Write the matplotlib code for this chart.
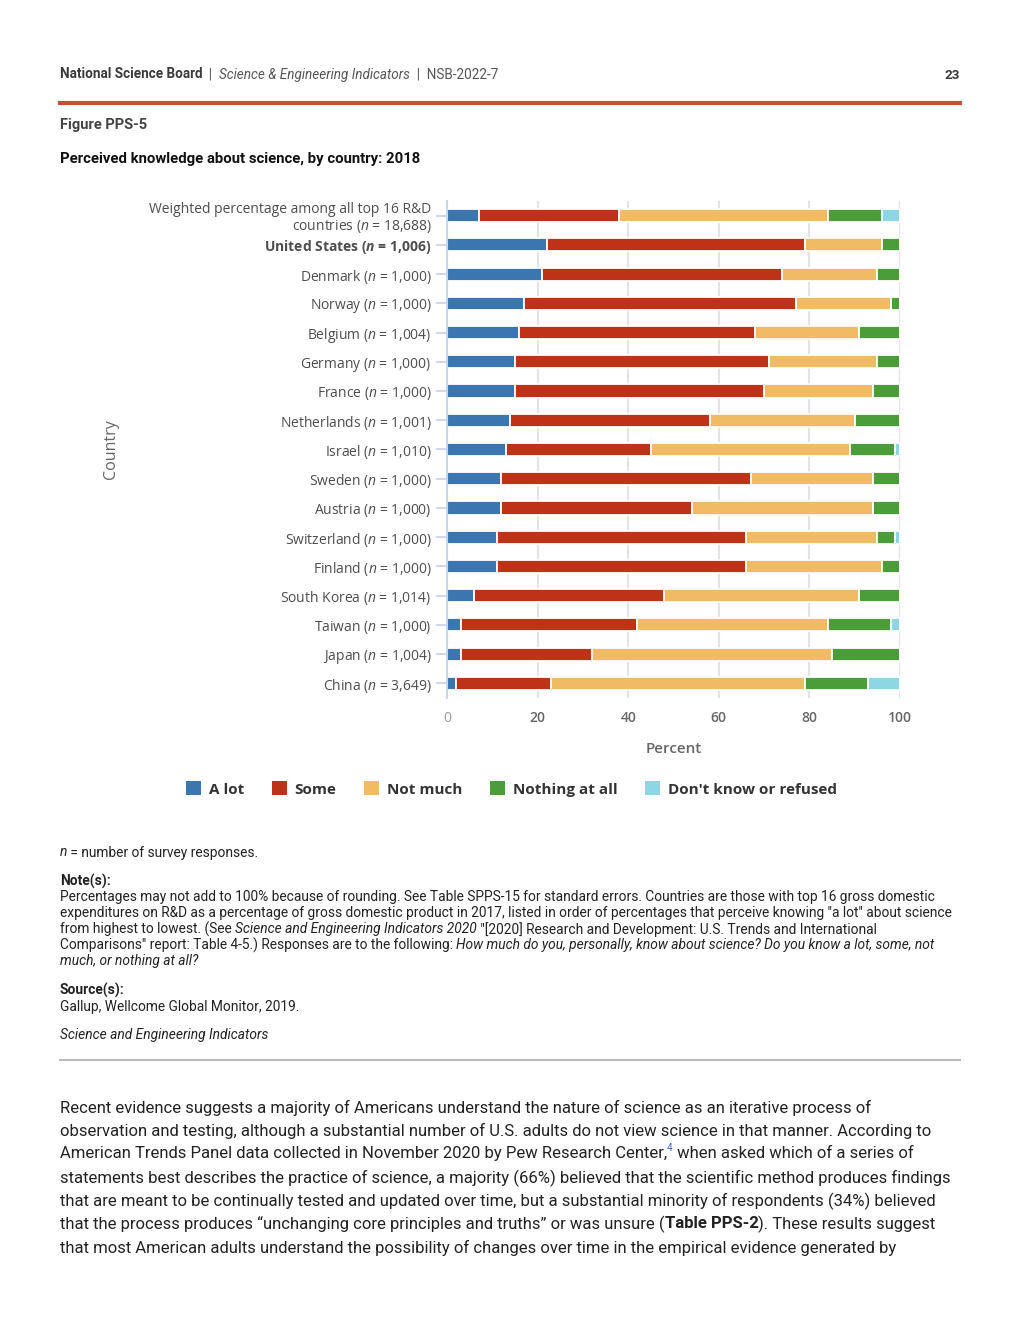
import numpy as np
import matplotlib
matplotlib.use('Agg')
import matplotlib.pyplot as plt
from matplotlib.lines import Line2D

plt.rcParams['mathtext.fontset'] = 'custom'
plt.rcParams['mathtext.rm'] = 'Open Sans'
plt.rcParams['mathtext.it'] = 'Open Sans:italic'
plt.rcParams['mathtext.bf'] = 'Open Sans:bold'
plt.rcParams['mathtext.bfit'] = 'Open Sans:italic:bold'

# data (percent), top to bottom
countries = [
    'Weighted percentage among all top 16 R&D\ncountries ($\\mathit{n}$ = 18,688)',
    'United States ($\\mathbfit{n}$ = 1,006)',
    'Denmark ($\\mathit{n}$ = 1,000)',
    'Norway ($\\mathit{n}$ = 1,000)',
    'Belgium ($\\mathit{n}$ = 1,004)',
    'Germany ($\\mathit{n}$ = 1,000)',
    'France ($\\mathit{n}$ = 1,000)',
    'Netherlands ($\\mathit{n}$ = 1,001)',
    'Israel ($\\mathit{n}$ = 1,010)',
    'Sweden ($\\mathit{n}$ = 1,000)',
    'Austria ($\\mathit{n}$ = 1,000)',
    'Switzerland ($\\mathit{n}$ = 1,000)',
    'Finland ($\\mathit{n}$ = 1,000)',
    'South Korea ($\\mathit{n}$ = 1,014)',
    'Taiwan ($\\mathit{n}$ = 1,000)',
    'Japan ($\\mathit{n}$ = 1,004)',
    'China ($\\mathit{n}$ = 3,649)',
]
a_lot = [7, 22, 21, 17, 16, 15, 15, 14, 13, 12, 12, 11, 11, 6, 3, 3, 2]
some = [31, 57, 53, 60, 52, 56, 55, 44, 32, 55, 42, 55, 55, 42, 39, 29, 21]
not_much = [46, 17, 21, 21, 23, 24, 24, 32, 44, 27, 40, 29, 30, 43, 42, 53, 56]
nothing = [12, 4, 5, 2, 9, 5, 6, 10, 10, 6, 6, 4, 4, 9, 14, 15, 14]
dont_know = [4, 0, 0, 0, 0, 0, 0, 0, 1, 0, 0, 1, 0, 0, 2, 0, 7]

series_names = ['A lot', 'Some', 'Not much', 'Nothing at all', "Don't know or refused"]
series_vals = [a_lot, some, not_much, nothing, dont_know]
series_colors = ['#3b76b1', '#be3217', '#f0bb64', '#4b9d3a', '#8dd7e5']

W, H = 1020, 1320
fig = plt.figure(figsize=(10.2, 13.2), dpi=100)
fig.patch.set_facecolor('white')

ax = fig.add_axes([447 / W, 1 - 698 / H, 453 / W, 497 / H])
y = np.arange(len(countries))
left = np.zeros(len(countries))
for name, vals, col in zip(series_names, series_vals, series_colors):
    vals = np.array(vals, dtype=float)
    ax.barh(y, vals, left=left, height=0.45, color=col, edgecolor='white',
            linewidth=1.3, label=name)
    left += vals

ax.set_xlim(0, 100)
ax.set_ylim(len(countries) - 0.5, -0.5)
ax.set_xticks([0, 20, 40, 60, 80, 100])
ax.xaxis.grid(True, color='#e3e3e3', linewidth=1.5)
ax.set_axisbelow(True)
for s in ['top', 'right', 'bottom']:
    ax.spines[s].set_visible(False)
ax.spines['left'].set_color('#ccd6eb')
ax.spines['left'].set_linewidth(1.5)
ax.tick_params(axis='x', length=0, pad=9, labelsize=10, labelcolor='#666666')
ax.tick_params(axis='y', length=8, width=1.3, color='#ccd6eb', pad=3,
               labelsize=10, labelcolor='#4d4d4d')
ax.set_yticks(y)
ax.set_yticklabels(countries, family='Open Sans')
for lab in ax.get_yticklabels():
    lab.set_linespacing(1.05)
for lab in ax.get_xticklabels():
    lab.set_family('Open Sans')
    lab.set_fontweight('semibold')
ax.get_xticklabels()[0].set_color('#9a9a9a')
ax.get_xticklabels()[0].set_fontweight('normal')
ax.get_yticklabels()[1].set_fontweight('bold')
ax.set_xlabel('Percent', family='Open Sans', fontsize=11, color='#666666',
              labelpad=12, fontweight='semibold')
fig.text(111 / W, 1 - 449 / H, 'Country', rotation=90, family='Open Sans',
         fontsize=11.5, color='#666666', ha='center', va='center')

leg = ax.legend(loc='center', bbox_to_anchor=(511.5 / W, 1 - 789 / H),
                bbox_transform=fig.transFigure, ncol=5, frameon=False,
                handlelength=1.0, handleheight=1.0, handletextpad=0.5,
                columnspacing=1.8, prop={'family': 'Open Sans', 'weight': 'bold', 'size': 11})
for t in leg.get_texts():
    t.set_color('#333333')
for hnd in leg.legend_handles:
    hnd.set_edgecolor('none')

renderer = fig.canvas.get_renderer()


def text_width(txt, **kw):
    t1 = fig.text(0, 0, txt + '|', **kw)
    t2 = fig.text(0, 0, '|', **kw)
    w = t1.get_window_extent(renderer).width - t2.get_window_extent(renderer).width
    t1.remove()
    t2.remove()
    return w


def rich(x_px, y_px, parts, size, color='#222222'):
    x = x_px
    for p in parts:
        txt = p[0]
        style = p[1] if len(p) > 1 else 'normal'
        weight = p[2] if len(p) > 2 else 'normal'
        col = p[3] if len(p) > 3 else color
        sz = p[4] if len(p) > 4 else size
        dy = p[5] if len(p) > 5 else 0
        kw = dict(fontsize=sz, family='Roboto', style=style, fontweight=weight, color=col)
        fig.text(x / W, 1 - (y_px - dy) / H, txt, va='center_baseline', ha='left', **kw)
        x += text_width(txt, **kw)


# header
rich(60, 73, [('National Science Board', 'normal', 'bold', '#3a3a3a'),
              ('  |  ', 'normal', 'normal', '#555555'),
              ('Science & Engineering Indicators', 'italic', 'normal', '#555555'),
              ('  |  NSB-2022-7', 'normal', 'normal', '#555555')], 9.75)
fig.text(960 / W, 1 - 74 / H, '23', ha='right', va='center_baseline', family='Roboto',
         fontsize=9.6, fontweight='bold', color='#3a3a3a')
fig.add_artist(Line2D([60 / W, 960 / W], [1 - 103 / H] * 2, color='#c4503c', lw=3))
fig.text(60 / W, 1 - 124 / H, 'Figure PPS-5', va='center_baseline', family='Roboto',
         fontsize=10.5, fontweight='bold', color='#444444')
fig.text(60 / W, 1 - 157 / H, 'Perceived knowledge about science, by country: 2018',
         va='center_baseline', family='Roboto', fontsize=10.75, fontweight='bold', color='#111111')

# notes
ns = 9.87
rich(60, 851, [('n', 'italic'), (' = number of survey responses.',)], ns)
rich(60, 880, [('Note(s):', 'normal', 'bold')], ns)
rich(60, 896, [('Percentages may not add to 100% because of rounding. See Table SPPS-15 for standard errors. '
                'Countries are those with top 16 gross domestic',)], ns)
rich(60, 912, [('expenditures on R&D as a percentage of gross domestic product in 2017, listed in order of '
                'percentages that perceive knowing "a lot" about science',)], ns)
rich(60, 928, [('from highest to lowest. (See ',),
               ('Science and Engineering Indicators 2020', 'italic'),
               (' "[2020] Research and Development: U.S. Trends and International',)], ns)
rich(60, 944, [('Comparisons" report: Table 4-5.) Responses are to the following: ',),
               ('How much do you, personally, know about science? Do you know a lot, some, not', 'italic')], ns)
rich(60, 960, [('much, or nothing at all?', 'italic')], ns)
rich(60, 989, [('Source(s):', 'normal', 'bold')], ns)
rich(60, 1005, [('Gallup, Wellcome Global Monitor, 2019.',)], ns)
rich(60, 1034, [('Science and Engineering Indicators', 'italic')], ns)
fig.add_artist(Line2D([60 / W, 960 / W], [1 - 1060 / H] * 2, color='#bbbbbb', lw=1.5))

# body text
bs = 11.97
body_y = [1106, 1129, 1152, 1176, 1199, 1222, 1246]
rich(60, body_y[0], [('Recent evidence suggests a majority of Americans understand the nature of science as an iterative process of',)], bs)
rich(60, body_y[1], [('observation and testing, although a substantial number of U.S. adults do not view science in that manner. According to',)], bs)
rich(60, body_y[2], [('American Trends Panel data collected in November 2020 by Pew Research Center,',),
                     ('4', 'normal', 'normal', '#2a6db5', 7, 5),
                     (' when asked which of a series of',)], bs)
rich(60, body_y[3], [('statements best describes the practice of science, a majority (66%) believed that the scientific method produces findings',)], bs)
rich(60, body_y[4], [('that are meant to be continually tested and updated over time, but a substantial minority of respondents (34%) believed',)], bs)
rich(60, body_y[5], [('that the process produces \u201cunchanging core principles and truths\u201d or was unsure (',),
                     ('Table PPS-2', 'normal', 'bold'),
                     ('). These results suggest',)], bs)
rich(60, body_y[6], [('that most American adults understand the possibility of changes over time in the empirical evidence generated by',)], bs)

fig.savefig('out.png', dpi=100)
